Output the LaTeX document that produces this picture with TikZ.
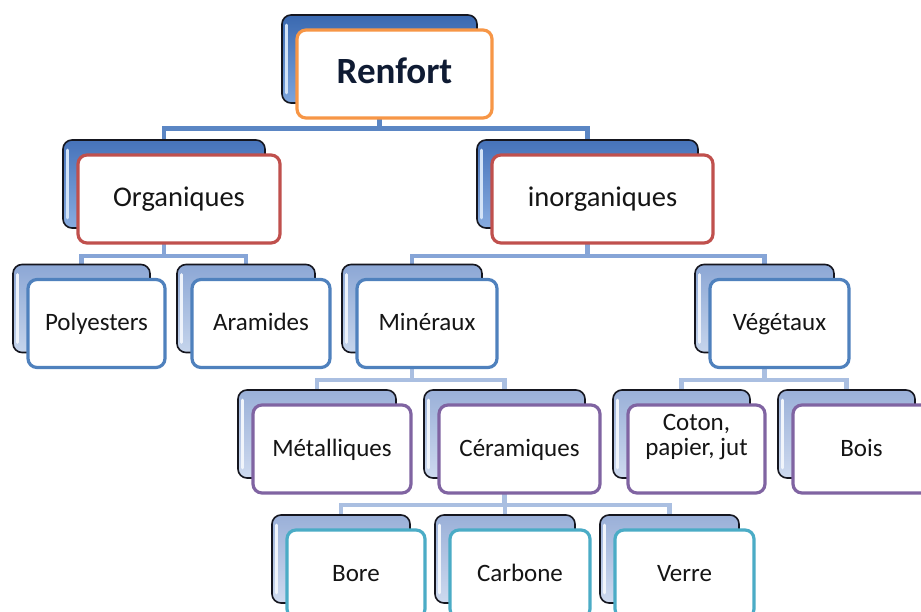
\documentclass[tikz,border=0pt]{standalone}
\usepackage{fontspec}
\setmainfont{Carlito}
\pgfdeclarelayer{bg}
\pgfsetlayers{bg,main}

% card colours
\definecolor{cardedge}{HTML}{15161F}
\definecolor{Atop}{HTML}{3A69B0}\definecolor{Abot}{HTML}{7CA4DC}\definecolor{Ahi}{HTML}{D3E3F7}
\definecolor{Btop}{HTML}{4673BA}\definecolor{Bbot}{HTML}{88ACE0}\definecolor{Bhi}{HTML}{D3E3F7}
\definecolor{Ctop}{HTML}{8CA7D5}\definecolor{Cbot}{HTML}{C6D5EC}\definecolor{Chi}{HTML}{EEF3FB}
\definecolor{Dtop}{HTML}{9AB0D8}\definecolor{Dbot}{HTML}{CEDAEF}\definecolor{Dhi}{HTML}{F1F5FB}
% frame colours
\definecolor{fOrange}{HTML}{F79646}
\definecolor{fRed}{HTML}{C0504D}
\definecolor{fBlue}{HTML}{4F81BD}
\definecolor{fPurple}{HTML}{8064A2}
\definecolor{fCyan}{HTML}{4BACC6}
% connector colours
\definecolor{kA}{HTML}{5B86C4}
\definecolor{kB}{HTML}{86A5D7}
\definecolor{kC}{HTML}{AABFE1}
\definecolor{txt}{HTML}{151515}
\definecolor{txtTop}{HTML}{0F1B33}

\tikzset{
  backcard/.style={draw=cardedge, line width=1.6pt, rounded corners=9pt,
    top color=#1top, bottom color=#1bot, minimum height=88pt, inner sep=0pt},
  hilite/.style={draw=#1hi, line width=3pt, line cap=round},
  frontcard/.style={draw=#1, fill=white, line width=3.2pt, rounded corners=9pt,
    minimum height=88pt, inner sep=0pt, text=txt, text depth=0pt},
  topfont/.style={font=\fontsize{37}{40}\selectfont\bfseries, text=txtTop, text height=18.5pt},
  midfont/.style={font=\fontsize{28.5}{32}\selectfont, text height=14.5pt},
  lowfont/.style={font=\fontsize{25}{28}\selectfont, text height=14pt},
  connA/.style={draw=kA, line width=4.6pt},
  connB/.style={draw=kB, line width=4.4pt},
  connC/.style={draw=kC, line width=4.4pt},
}

% #1 name, #2 x, #3 y (front centre), #4 width, #5 back level, #6 frame colour, #7 font style, #8 text
\newcommand\mkcard[8]{%
  \node[backcard=#5, minimum width=#4pt] (#1B) at (#2-15,#3-15) {};
  \draw[hilite=#5] ([xshift=5.5pt,yshift=-11pt]#1B.north west) -- ([xshift=5.5pt,yshift=11pt]#1B.south west);
  \node[frontcard=#6, minimum width=#4pt, #7] (#1) at (#2,#3) {#8};
}

\begin{document}
\begin{tikzpicture}[x=1pt,y=-1pt]
\useasboundingbox (0,0) rectangle (921,612);

% level 1
\mkcard{ren}{394.5}{74}{195}{A}{fOrange}{topfont}{Renfort}
% level 2
\mkcard{org}{179}{199}{202}{B}{fRed}{midfont}{Organiques}
\mkcard{ino}{602.5}{199}{221}{B}{fRed}{midfont}{inorganiques}
% level 3
\mkcard{poly}{96.5}{323.5}{137}{C}{fBlue}{lowfont}{Polyesters}
\mkcard{ara}{261}{323.5}{138}{C}{fBlue}{lowfont}{Aramides}
\mkcard{min}{427}{323.5}{140}{C}{fBlue}{lowfont}{Minéraux}
\mkcard{veg}{779.5}{323.5}{139}{C}{fBlue}{lowfont}{Végétaux}
% level 4
\mkcard{met}{332}{449}{158}{D}{fPurple}{lowfont}{Métalliques}
\mkcard{cer}{519.5}{449}{161}{D}{fPurple}{lowfont}{Céramiques}
\mkcard{cot}{696.5}{449}{137}{D}{fPurple}{lowfont}{}
\node[font=\fontsize{25}{25}\selectfont, text=txt, align=center] (cotT) at (696.5,437) {Coton,\\papier, jut};
\mkcard{bois}{861.5}{449}{137}{D}{fPurple}{lowfont}{Bois}
% level 5
\mkcard{bore}{356}{574}{138}{D}{fCyan}{lowfont}{Bore}
\mkcard{carb}{520}{574}{140}{D}{fCyan}{lowfont}{Carbone}
\mkcard{verre}{684.5}{574}{139}{D}{fCyan}{lowfont}{Verre}

% white ground and connectors, behind the cards
\begin{pgfonlayer}{bg}
\fill[white] (0,0) rectangle (921,612);
\draw[connA] (renB.south) -- ++(0,25) -| (orgB.north)
             (renB.south) -- ++(0,25) -| (inoB.north);
\draw[connB] (orgB.south) -- ++(0,27) -| (polyB.north)
             (orgB.south) -- ++(0,27) -| (araB.north);
\draw[connB] (inoB.south) -- ++(0,27) -| (minB.north)
             (inoB.south) -- ++(0,27) -| (vegB.north);
\draw[connC] (minB.south) -- ++(0,26.5) -| (metB.north)
             (minB.south) -- ++(0,26.5) -| (cerB.north);
\draw[connC] (vegB.south) -- ++(0,26.5) -| (cotB.north)
             (vegB.south) -- ++(0,26.5) -| (boisB.north);
\draw[connC] (cerB.south) -- ++(0,26) -| (boreB.north)
             (cerB.south) -- ++(0,26) -| (carbB.north)
             (cerB.south) -- ++(0,26) -| (verreB.north);
\end{pgfonlayer}
\end{tikzpicture}
\end{document}
